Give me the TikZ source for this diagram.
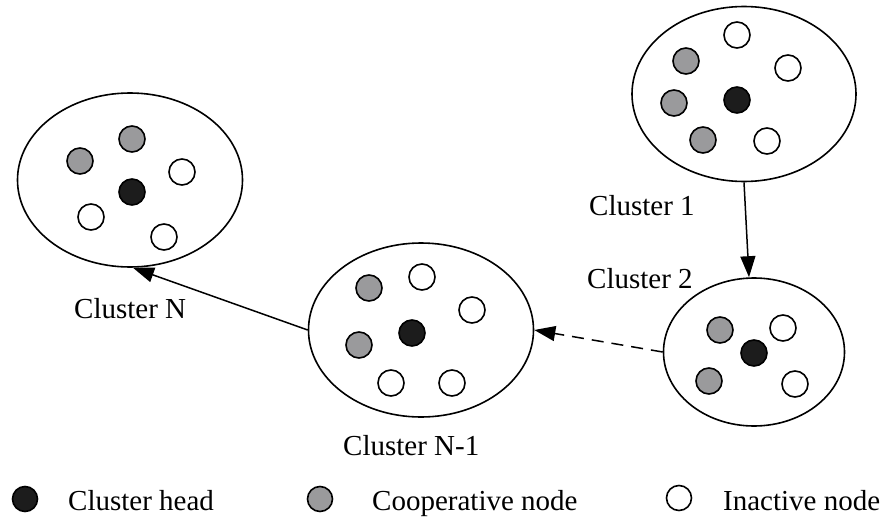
\documentclass[tikz,border=0pt]{standalone}
\usepackage{fontspec}
\setmainfont{Liberation Serif}
\usetikzlibrary{arrows.meta,shapes.geometric}
\definecolor{headfill}{HTML}{1C1C1C}
\definecolor{coopfill}{HTML}{9A9A9C}
\begin{document}
\begin{tikzpicture}[x=1pt,y=-1pt,
  cluster/.style={draw, ellipse, line width=1.6pt, inner sep=0pt},
  dot/.style={draw, circle, line width=1.6pt, minimum size=26pt, inner sep=0pt},
  head/.style={dot, fill=headfill},
  coop/.style={dot, fill=coopfill},
  idle/.style={dot, fill=white},
  legdot/.style={dot, minimum size=25pt},
  label/.style={inner sep=0pt, anchor=base west, font=\fontsize{29}{34}\selectfont},
  link/.style={line width=1.5pt, -{Triangle[length=21pt,width=15pt]}},
]
\useasboundingbox (0,0) rectangle (892,522);

% clusters
\node[cluster, minimum width=224pt, minimum height=175pt] (c1) at (744,94) {};
\node[cluster, minimum width=181pt, minimum height=148pt] (c2) at (754,352) {};
\node[cluster, minimum width=225pt, minimum height=174pt] (cm) at (421,330) {};
\node[cluster, minimum width=225pt, minimum height=174pt] (cn) at (130,180) {};

% members of cluster 1
\node[idle] (a1) at (737,35) {};
\node[coop] (a2) at (686,61) {};
\node[idle] (a3) at (788,68) {};
\node[coop] (a4) at (674,103) {};
\node[head] (a5) at (737,100) {};
\node[coop] (a6) at (703,140) {};
\node[idle] (a7) at (767,141) {};

% members of cluster 2
\node[coop] (b1) at (720,330) {};
\node[idle] (b2) at (783,328) {};
\node[head] (b3) at (754,353) {};
\node[coop] (b4) at (709,381) {};
\node[idle] (b5) at (795,384) {};

% members of cluster N-1
\node[coop] (m1) at (369,288) {};
\node[idle] (m2) at (422,277) {};
\node[idle] (m3) at (472,310) {};
\node[head] (m4) at (412,333) {};
\node[coop] (m5) at (359,345) {};
\node[idle] (m6) at (391,383) {};
\node[idle] (m7) at (452,383) {};

% members of cluster N
\node[coop] (n1) at (80,161) {};
\node[coop] (n2) at (132,139) {};
\node[idle] (n3) at (182,172) {};
\node[head] (n4) at (132,192) {};
\node[idle] (n5) at (91,217) {};
\node[idle] (n6) at (164,237) {};

% links between clusters
\draw[link] (c1.south) -- ([xshift=-5pt]c2.north);
\draw[link, dash pattern=on 12pt off 8pt] (c2.west) -- (cm.east);
\draw[link] (cm.west) -- ([xshift=3pt]cn.south);

% cluster names
\node[label] (l1) at (589,215) {Cluster 1};
\node[label] (l2) at (587,288) {Cluster 2};
\node[label] (lm) at (343,455) {Cluster N-1};
\node[label] (ln) at (74,318) {Cluster N};

% legend
\node[legdot, fill=headfill] (k1) at (25,499) {};
\node[label] (t1) at (68,510) {Cluster head};
\node[legdot, fill=coopfill] (k2) at (320,499) {};
\node[label] (t2) at (372,510) {Cooperative node};
\node[legdot, fill=white] (k3) at (679,498) {};
\node[label] (t3) at (723,510) {Inactive node};
\end{tikzpicture}
\end{document}
